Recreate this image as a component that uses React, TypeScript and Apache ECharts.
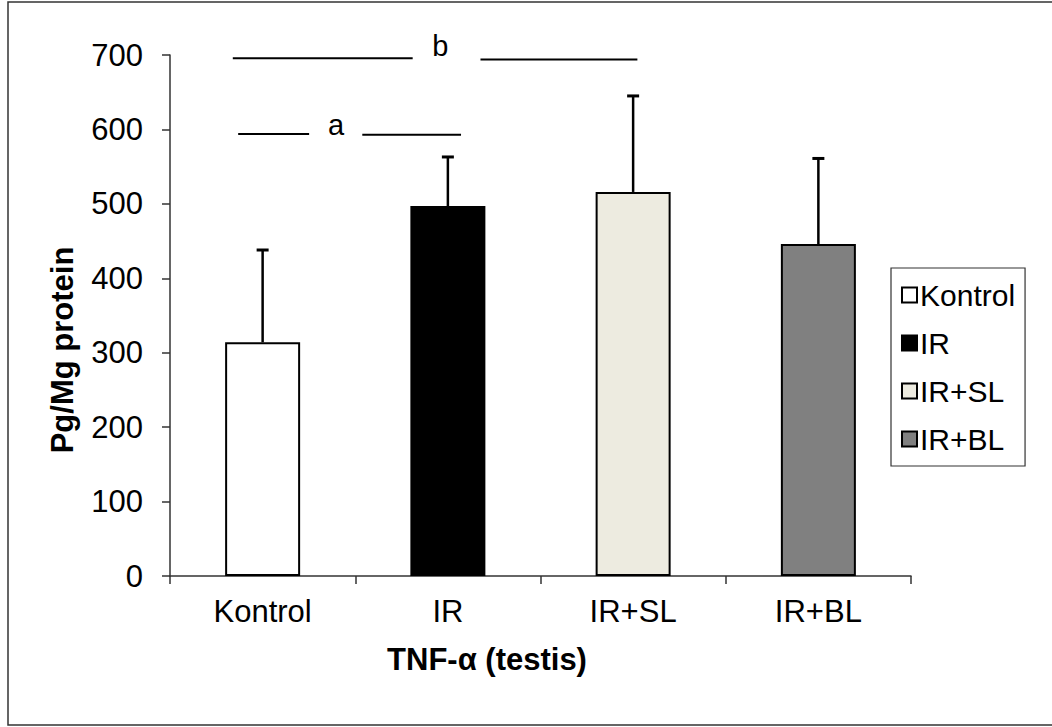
import React, { useEffect, useRef } from "react";
import * as echarts from "echarts";

const categories = ["Kontrol", "IR", "IR+SL", "IR+BL"];
const means = [314, 497, 516, 446];
const upperErrors = [438, 563, 645, 561];
const barColors = ["#ffffff", "#000000", "#edebe0", "#808080"];
const yTicks = { min: 0, max: 700, interval: 100 };
// significance brackets, x in category-band units (0..4), y in data units
const sigSegments = [
  { x1: 0.339, x2: 1.31, y: 695.5 },
  { x1: 1.676, x2: 2.523, y: 694 },
  { x1: 0.368, x2: 0.751, y: 594 },
  { x1: 1.038, x2: 1.571, y: 593 },
];
const sigLabels = [
  { x: 1.459, y: 712, text: "b" },
  { x: 0.896, y: 606, text: "a" },
];

const FONT = "'Liberation Sans', Arial, sans-serif";

export default function App() {
  const ref = useRef<HTMLDivElement>(null);
  useEffect(() => {
    if (!ref.current) return;
    const chart = echarts.init(ref.current, undefined, { renderer: "svg" });

    const barSeries = categories.map((name, i) => ({
      name,
      type: "bar",
      xAxisIndex: 0,
      yAxisIndex: 0,
      barWidth: 75,
      barGap: "-100%",
      data: categories.map((_, j) => (j === i ? means[i] : "-")),
      itemStyle: { color: barColors[i], borderColor: "#000", borderWidth: 2 },
      z: 2,
    }));

    const errSeries = {
      type: "custom",
      name: "err",
      xAxisIndex: 0,
      yAxisIndex: 0,
      z: 3,
      data: categories.map((_, i) => [i, means[i], upperErrors[i]]),
      encode: { x: 0, y: [1, 2] },
      renderItem: (params: any, api: any) => {
        const p0 = api.coord([api.value(0), api.value(1)]);
        const p1 = api.coord([api.value(0), api.value(2)]);
        return {
          type: "group",
          children: [
            {
              type: "line",
              shape: { x1: p0[0], y1: p0[1], x2: p1[0], y2: p1[1] },
              style: { stroke: "#000", lineWidth: 2.5 },
            },
            {
              type: "line",
              shape: { x1: p1[0] - 6, y1: p1[1], x2: p1[0] + 6, y2: p1[1] },
              style: { stroke: "#000", lineWidth: 3 },
            },
          ],
        };
      },
    };

    const sigSeries = sigSegments.map((s, i) => ({
      type: "line",
      name: "sig" + i,
      xAxisIndex: 1,
      yAxisIndex: 0,
      symbol: "none",
      clip: false,
      data: [
        [s.x1, s.y],
        [s.x2, s.y],
      ],
      lineStyle: { color: "#000", width: 2 },
      z: 4,
    }));

    const sigText = {
      type: "scatter",
      name: "sigtext",
      xAxisIndex: 1,
      yAxisIndex: 0,
      symbolSize: 1,
      clip: false,
      itemStyle: { color: "rgba(0,0,0,0)", opacity: 1 },
      data: sigLabels.map((l) => ({
        value: [l.x, l.y],
        label: {
          show: true,
          position: "inside",
          formatter: l.text,
          color: "#000",
          opacity: 1,
          textBorderWidth: 0,
          fontSize: 29,
          fontFamily: FONT,
        },
      })),
      z: 5,
    };

    chart.setOption({
      animation: false,
      backgroundColor: "#ffffff",
      grid: { left: 170, top: 55, width: 741, height: 521, containLabel: false },
      xAxis: [
        {
          type: "category",
          data: categories,
          axisLine: { lineStyle: { color: "#333", width: 1.5 } },
          axisTick: { show: true, length: 8, lineStyle: { color: "#333", width: 1.5 } },
          axisLabel: { color: "#000", fontSize: 31, fontFamily: FONT, margin: 20 },
        },
        { type: "value", min: 0, max: 4, show: false },
      ],
      yAxis: {
        type: "value",
        min: yTicks.min,
        max: yTicks.max,
        interval: yTicks.interval,
        splitLine: { show: false },
        axisLine: { show: true, lineStyle: { color: "#333", width: 1.5 } },
        axisTick: { show: true, length: 8, lineStyle: { color: "#333", width: 1.5 } },
        axisLabel: { color: "#000", fontSize: 31, fontFamily: FONT, margin: 27 },
      },
      legend: {
        data: categories,
        orient: "vertical",
        left: 891,
        top: 268,
        width: 142,
        padding: [12, 10, 12, 10],
        itemGap: 18,
        itemWidth: 15,
        itemHeight: 15,
        icon: "rect",
        backgroundColor: "#fff",
        borderColor: "#333",
        borderWidth: 1.2,
        textStyle: { color: "#000", fontSize: 30, fontFamily: FONT, padding: [0, 0, 0, -2] },
        itemStyle: { borderColor: "#000", borderWidth: 2 },
        selectedMode: false,
      },
      graphic: [
        {
          type: "rect",
          shape: { x: 8, y: 2, width: 1100, height: 723 },
          style: { fill: "none", stroke: "#333", lineWidth: 1.5 },
          silent: true,
          z: -10,
        },
        {
          type: "text",
          x: 62,
          y: 350,
          rotation: Math.PI / 2,
          style: {
            text: "Pg/Mg protein",
            fontSize: 31,
            fontWeight: "bold",
            fontFamily: FONT,
            fill: "#000",
            align: "center",
            verticalAlign: "middle",
          },
        },
        {
          type: "text",
          x: 487,
          y: 659,
          style: {
            text: "TNF-α (testis)",
            fontSize: 31,
            fontWeight: "bold",
            fontFamily: FONT,
            fill: "#000",
            align: "center",
            verticalAlign: "middle",
          },
        },
      ],
      series: [...barSeries, errSeries, ...sigSeries, sigText],
    });
    return () => chart.dispose();
  }, []);
  return (
    <div
      ref={ref}
      style={{ position: "fixed", left: 0, top: 0, width: 1052, height: 727 }}
    />
  );
}
